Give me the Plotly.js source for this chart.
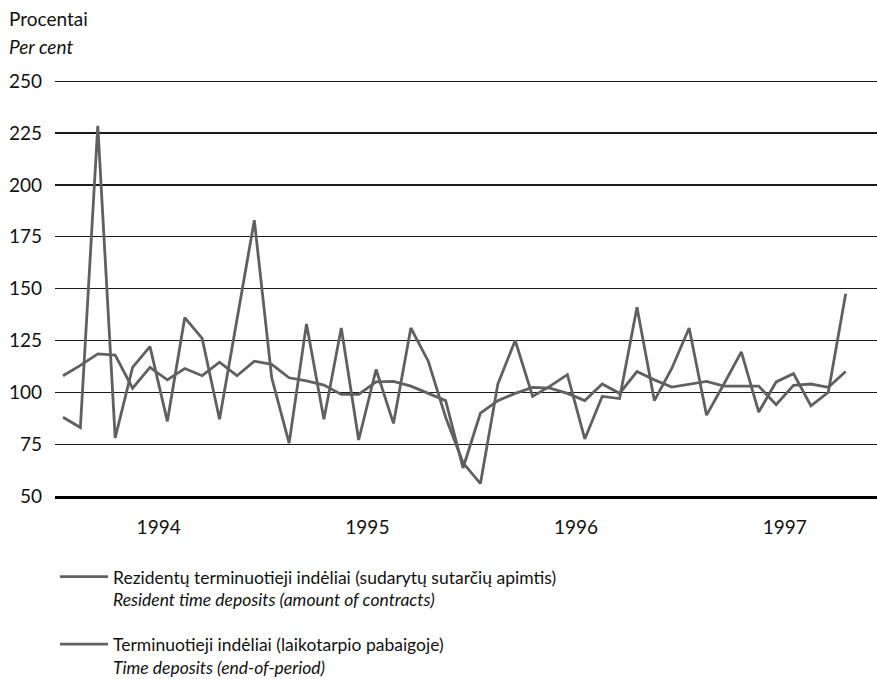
<!DOCTYPE html>
<html>
<head>
<meta charset="utf-8">
<script src="https://cdn.plot.ly/plotly-3.0.1.min.js"></script>
<style>html,body{margin:0;padding:0;background:#fff;}#chart{width:877px;height:679px;}</style>
</head>
<body>
<div id="chart"></div>
<script>
// Monthly observations, January 1994 (index 0) to October 1997 (index 45)
const months = Array.from({length: 46}, (_, i) => i);

// Rezidentų terminuotieji indėliai (sudarytų sutarčių apimtis), %
const residentContracts = [
  88, 83, 228.5, 78, 112, 122, 86, 136, 126, 87, 135, 183,
  107, 75.5, 133, 87, 131, 77, 111, 85, 131, 115, 88, 66,
  56, 104, 125, 98, 103, 108.5, 77.5, 98, 97, 141, 96, 111.5,
  131, 89, 104, 119.5, 90.5, 105, 109, 93.5, 100, 147.5
];

// Terminuotieji indėliai (laikotarpio pabaigoje), %
const timeDepositsEOP = [
  108, 113, 118.5, 118, 102, 112, 106, 111.5, 108, 114.5, 108, 115,
  113.5, 107, 105.5, 103.5, 99, 99, 105, 105.3, 103, 99.5, 96, 63.5,
  90, 96, 99.5, 102.4, 102, 99.5, 96, 104, 99.5, 110, 106, 102.5,
  104, 105.3, 103, 103, 103, 94, 103.4, 104, 102.4, 110
];

const yearTickPos = [5.5, 17.5, 29.5, 41.5];
const yearTickText = ['1994', '1995', '1996', '1997'];
const yTicks = [50, 75, 100, 125, 150, 175, 200, 225, 250];

const seriesNames = [
  'Rezidentų terminuotieji indėliai (sudarytų sutarčių apimtis)<br><i>Resident time deposits (amount of contracts)</i>',
  'Terminuotieji indėliai (laikotarpio pabaigoje)<br><i>Time deposits (end-of-period)</i>'
];

const FONT = 'Lato, "Open Sans", sans-serif';
const lineColor = '#606060';

const traces = [
  {x: months, y: residentContracts, type: 'scatter', mode: 'lines', name: seriesNames[0],
   legendgroup: 'a', line: {color: lineColor, width: 2.8}},
  {x: months, y: timeDepositsEOP, type: 'scatter', mode: 'lines', name: seriesNames[1],
   legendgroup: 'b', line: {color: lineColor, width: 2.8}}
];

const layout = {
  width: 877, height: 679,
  margin: {l: 55, r: 0, t: 80, b: 183, autoexpand: false},
  paper_bgcolor: '#fff', plot_bgcolor: '#fff',
  font: {family: FONT, size: 19, color: '#111'},
  showlegend: true,
  legend: {
    x: 0.0, xanchor: 'left', y: -0.151, yanchor: 'top',
    valign: 'top', tracegroupgap: 19, traceorder: 'grouped',
    itemwidth: 48,
    font: {family: FONT, size: 17.5, color: '#111'},
    bgcolor: 'rgba(0,0,0,0)'
  },
  xaxis: {
    range: [-0.46, 46.8], showgrid: false, zeroline: false,
    tickmode: 'array', tickvals: yearTickPos, ticktext: yearTickText,
    ticks: '', showline: true, linecolor: '#000', linewidth: 3,
    tickfont: {family: FONT, size: 19, color: '#111'},
    ticklabelstandoff: 12, fixedrange: true
  },
  yaxis: {
    range: [50, 250.6], tickmode: 'array', tickvals: yTicks,
    showgrid: true, gridcolor: '#1a1a1a', gridwidth: 1.3,
    zeroline: false, showline: false, ticks: '',
    tickfont: {family: FONT, size: 19, color: '#111'},
    ticklabelstandoff: 12, fixedrange: true
  },
  annotations: [
    {text: 'Procentai', xref: 'paper', yref: 'paper', x: -0.058, y: 1.148,
     xanchor: 'left', yanchor: 'middle', showarrow: false,
     font: {family: FONT, size: 19, color: '#111'}},
    {text: '<i>Per cent</i>', xref: 'paper', yref: 'paper', x: -0.058, y: 1.08,
     xanchor: 'left', yanchor: 'middle', showarrow: false,
     font: {family: FONT, size: 19, color: '#111'}}
  ]
};

Plotly.newPlot('chart', traces, layout, {displayModeBar: false, staticPlot: true});
</script>
</body>
</html>
